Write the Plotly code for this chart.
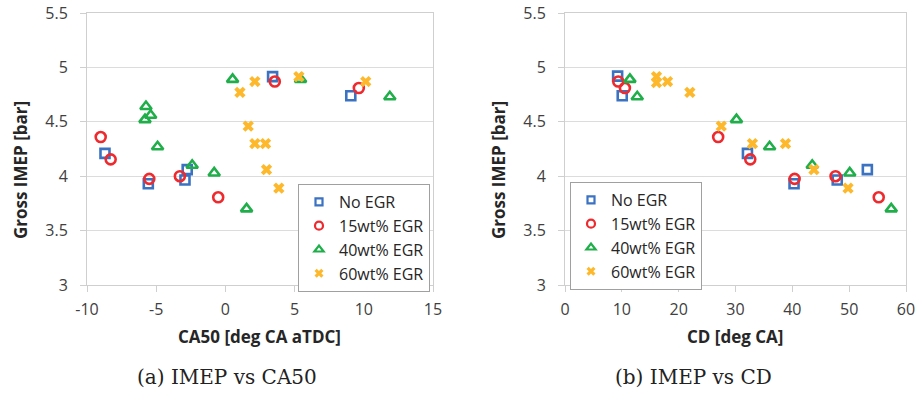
import plotly.graph_objects as go

# ---- data: Gross IMEP against CA50 (panel a) and combustion duration (panel b)
series_names = ["No EGR", "15wt% EGR", "40wt% EGR", "60wt% EGR"]

ca50_no_egr = [-8.70, -5.57, -2.92, -2.76, 3.41, 9.06]
imep_ca50_no_egr = [4.21, 3.93, 3.965, 4.06, 4.915, 4.74]

ca50_egr15 = [-9.01, -8.29, -5.50, -3.29, -0.52, 3.57, 9.64]
imep_ca50_egr15 = [4.36, 4.155, 3.975, 4.00, 3.806, 4.87, 4.81]

ca50_egr40 = [-5.74, -5.40, -5.81, -4.90, -2.40, -0.81, 0.52, 1.53, 5.43, 11.88]
imep_ca50_egr40 = [4.64, 4.56, 4.52, 4.27, 4.10, 4.03, 4.89, 3.70, 4.89, 4.73]

ca50_egr60 = [1.05, 2.13, 5.31, 10.14, 1.65, 2.13, 2.90, 2.97, 3.86]
imep_ca50_egr60 = [4.77, 4.87, 4.915, 4.87, 4.46, 4.30, 4.30, 4.06, 3.89]

cd_no_egr = [9.26, 10.07, 32.1, 40.3, 47.9, 53.2]
imep_cd_no_egr = [4.92, 4.74, 4.21, 3.93, 3.965, 4.06]

cd_egr15 = [9.37, 10.54, 26.95, 32.6, 40.4, 47.6, 55.2]
imep_cd_egr15 = [4.87, 4.81, 4.36, 4.155, 3.975, 4.00, 3.806]

cd_egr40 = [11.42, 12.71, 30.17, 36.0, 43.5, 50.1, 57.4]
imep_cd_egr40 = [4.89, 4.73, 4.52, 4.27, 4.10, 4.03, 3.70]

cd_egr60 = [16.1, 16.1, 18.04, 21.97, 27.5, 32.98, 38.8, 43.8, 49.8]
imep_cd_egr60 = [4.915, 4.86, 4.87, 4.77, 4.46, 4.30, 4.30, 4.06, 3.89]

y_ticks = [3, 3.5, 4, 4.5, 5, 5.5]
ca50_ticks = [-10, -5, 0, 5, 10, 15]
ca50_ticktext = ["-10", "-5", "0", "5", "10", "15"]
cd_ticks = [0, 10, 20, 30, 40, 50, 60]

# ---- styling
W, H = 915, 394
colors = ["#3B73C2", "#EE2A2E", "#20AE4B", "#FDB92B"]
symbols = ["square-open", "circle-open", "triangle-up-open", "x"]
sizes = [9, 10, 10, 10]
legend_sizes = [7, 8, 8, 8]
line_widths = [2.6, 2.6, 2.6, 0]

SANS = "Open Sans, Liberation Sans, sans-serif"
TICK_FONT = dict(family=SANS, size=16, color="#404040")
TITLE_FONT = dict(family=SANS, size=17, color="#262626")
LEGEND_FONT = dict(family=SANS, size=16, color="#262626")
CAPTION_FONT = dict(family="DejaVu Serif, Liberation Serif, serif", size=20, color="#222222")
FRAME = "#CFCFCF"
GRID = "#DCDCDC"


def px_x(p):
    return p / W


def px_y(p):
    return 1 - p / H


fig = go.Figure()

panels = [
    ("x", "y", "legend",
     [(ca50_no_egr, imep_ca50_no_egr), (ca50_egr15, imep_ca50_egr15),
      (ca50_egr40, imep_ca50_egr40), (ca50_egr60, imep_ca50_egr60)]),
    ("x2", "y2", "legend2",
     [(cd_no_egr, imep_cd_no_egr), (cd_egr15, imep_cd_egr15),
      (cd_egr40, imep_cd_egr40), (cd_egr60, imep_cd_egr60)]),
]

for xa, ya, leg, series in panels:
    for i, (xs, ys) in enumerate(series):
        fig.add_trace(go.Scatter(
            x=xs, y=ys, mode="markers", name=series_names[i],
            xaxis=xa, yaxis=ya, showlegend=False,
            marker=dict(symbol=symbols[i], size=sizes[i], color=colors[i],
                        line=dict(width=line_widths[i], color=colors[i])),
        ))
    # smaller key symbols for the legend box
    for i in range(len(series_names)):
        fig.add_trace(go.Scatter(
            x=[None], y=[None], mode="markers", name=series_names[i],
            xaxis=xa, yaxis=ya, legend=leg, showlegend=True,
            marker=dict(symbol=symbols[i], size=legend_sizes[i], color=colors[i],
                        line=dict(width=line_widths[i] * 0.85, color=colors[i])),
        ))

y_dom = [px_y(285), px_y(13)]
common_axis = dict(showline=True, mirror=True, linecolor=FRAME, linewidth=1,
                   ticks="outside", ticklen=6, tickcolor=FRAME, tickwidth=1,
                   zeroline=False, tickfont=TICK_FONT, automargin=False,
                   ticklabeloverflow="allow")

fig.update_layout(
    width=W, height=H,
    margin=dict(l=0, r=0, t=0, b=0, autoexpand=False),
    paper_bgcolor="white", plot_bgcolor="white",
    xaxis=dict(domain=[px_x(87), px_x(433)], range=[-10, 15],
               tickvals=ca50_ticks, ticktext=ca50_ticktext, showgrid=False,
               anchor="y", ticklabelstandoff=4, **common_axis),
    yaxis=dict(domain=y_dom, range=[3, 5.5], tickvals=y_ticks, showgrid=True,
               gridcolor=GRID, gridwidth=1, anchor="x", ticklabelstandoff=9,
               **common_axis),
    xaxis2=dict(domain=[px_x(565), px_x(906)], range=[0, 60],
                tickvals=cd_ticks, showgrid=False, anchor="y2",
                ticklabelstandoff=4, **common_axis),
    yaxis2=dict(domain=y_dom, range=[3, 5.5], tickvals=y_ticks, showgrid=True,
                gridcolor=GRID, gridwidth=1, anchor="x2", ticklabelstandoff=9,
                **common_axis),
    legend=dict(x=px_x(298), y=px_y(184), xanchor="left", yanchor="top",
                bgcolor="white", bordercolor="#A0A0A0", borderwidth=1,
                font=LEGEND_FONT, itemwidth=30),
    legend2=dict(x=px_x(570), y=px_y(182), xanchor="left", yanchor="top",
                 bgcolor="white", bordercolor="#A0A0A0", borderwidth=1,
                 font=LEGEND_FONT, itemwidth=30),
)

annotations = [
    dict(text="<b>Gross IMEP [bar]</b>", x=px_x(20), y=px_y(170), textangle=-90,
         font=TITLE_FONT),
    dict(text="<b>Gross IMEP [bar]</b>", x=px_x(498), y=px_y(170), textangle=-90,
         font=TITLE_FONT),
    dict(text="<b>CA50 [deg CA aTDC]</b>", x=px_x(259), y=px_y(336), font=TITLE_FONT),
    dict(text="<b>CD [deg CA]</b>", x=px_x(735), y=px_y(336), font=TITLE_FONT),
    dict(text="(a) IMEP vs CA50", x=px_x(227), y=px_y(377), font=CAPTION_FONT),
    dict(text="(b) IMEP vs CD", x=px_x(693), y=px_y(377), font=CAPTION_FONT),
]
for a in annotations:
    fig.add_annotation(xref="paper", yref="paper", showarrow=False,
                       xanchor="center", yanchor="middle", **a)

fig.write_html("out.html")
